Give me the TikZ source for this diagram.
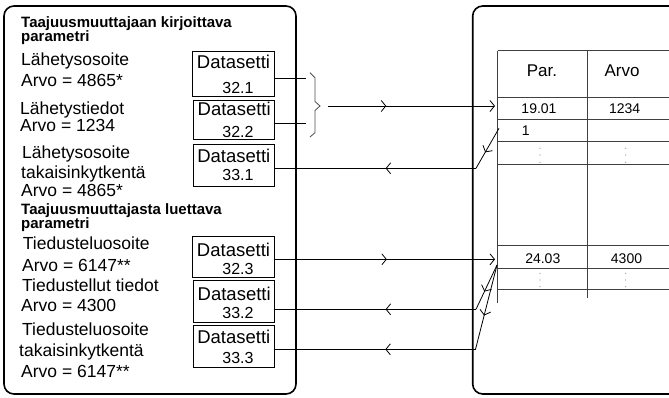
\documentclass[tikz,border=0pt]{standalone}
\usepackage{fontspec}
\setmainfont{Liberation Sans}
\usetikzlibrary{arrows.meta,decorations.markings,calc,fit}

% one Datasetti box: name, left x, top y, bottom y, number, title baseline, number baseline
\newcommand\datasetbox[7]{%
  \node[dbox, fit={(#2,#3) (274.7,#4)}] (#1) {};
  \node[dname] at ($(#1.center |- 0,#6)$) {Datasetti};
  \node[dnum] at (238,#7) {#5};
}

\begin{document}
\begin{tikzpicture}[x=1pt,y=-1pt,
  panel/.style={line width=1.6pt, rounded corners=10pt},
  dbox/.style={draw, line width=0.9pt, inner sep=0pt},
  dname/.style={anchor=base, font=\fontsize{18.5}{18.5}\selectfont, inner sep=0pt},
  dnum/.style={anchor=base, font=\fontsize{16}{16}\selectfont, inner sep=0pt},
  ptext/.style={anchor=base west, font=\fontsize{17.5}{17.5}\selectfont, inner sep=0pt},
  phead/.style={anchor=base west, font=\fontsize{15}{15}\selectfont\bfseries, inner sep=0pt},
  tline/.style={line width=0.8pt, draw=black!75},
  thead/.style={anchor=base, font=\fontsize{17}{17}\selectfont, inner sep=0pt},
  tval/.style={anchor=base, font=\fontsize{14}{14}\selectfont, inner sep=0pt},
  tdot/.style={fill=black!45},
  wire/.style={line width=0.8pt},
  barb/.style={-{Straight Barb[length=4.5pt,width=11pt]}},
  midbarb/.style={postaction=decorate, decoration={markings,
      mark=at position #1 with {\arrow{Straight Barb[length=4.5pt,width=11pt]}}}},
  bracepath/.style={line width=0.8pt, draw=black!70},
]
\useasboundingbox (0,0) rectangle (669,397);

% the two panels
\draw[panel] (4,6) rectangle (296,394);
\draw[panel] (690,6) -- (472.7,6) -- (472.7,394) -- (690,394);

% left panel: parameters written to the drive
\node[phead] (hw1) at (21,27) {Taajuusmuuttajaan kirjoittava};
\node[phead] (hw2) at (21,41.5) {parametri};
\node[ptext] (w1) at (21,65.5) {Lähetysosoite};
\node[ptext] (w2) at (21,86.5) {Arvo = 4865*};
\node[ptext] (w3) at (20,114) {Lähetystiedot};
\node[ptext] (w4) at (20,131.7) {Arvo = 1234};
\node[ptext] (w5) at (22,158.3) {Lähetysosoite};
\node[ptext] (w6) at (21,178.3) {takaisinkytkentä};
\node[ptext] (w7) at (21,196.7) {Arvo = 4865*};

% left panel: parameters read from the drive
\node[phead] (hr1) at (21,214) {Taajuusmuuttajasta luettava};
\node[phead] (hr2) at (21,228.5) {parametri};
\node[ptext] (r1) at (22.7,249.3) {Tiedusteluosoite};
\node[ptext] (r2) at (22,271) {Arvo = 6147**};
\node[ptext] (r3) at (22,291) {Tiedustellut tiedot};
\node[ptext] (r4) at (21,311) {Arvo = 4300};
\node[ptext] (r5) at (22,335.7) {Tiedusteluosoite};
\node[ptext] (r6) at (19,356.7) {takaisinkytkentä};
\node[ptext] (r7) at (21,377.3) {Arvo = 6147**};

% data sets
\datasetbox{d321}{192.3}{51.7}{96}{32.1}{68.3}{93.3}
\datasetbox{d322}{193.7}{100.3}{139.3}{32.2}{115}{137.3}
\datasetbox{d331}{193}{144.7}{186}{33.1}{162.5}{180}
\datasetbox{d323}{192.3}{236}{277.3}{32.3}{256.7}{274}
\datasetbox{d332}{193.7}{280}{322.3}{33.2}{300}{318.3}
\datasetbox{d333}{193}{325}{367}{33.3}{343.3}{363.3}

% parameter table
\draw[tline] (497.7,50.7) -- (497.7,303.3);
\draw[tline] (587.3,50.7) -- (587.3,298.3);
\foreach \y in {50.7,97.7,119.3,141.7,164,245,268.3,289.3}
  \draw[tline] (497.7,\y) -- (690,\y);
\node[thead] (par) at (542,76.7) {Par.};
\node[thead] (arvo) at (622,76.7) {Arvo};
\node[tval] (p1901) at (539,113.3) {19.01};
\node[tval] (v1234) at (624.7,113.3) {1234};
\node[tval, anchor=base west] (p1) at (521.7,135) {1};
\node[tval] (p2403) at (542.8,263.3) {24.03};
\node[tval] (v4300) at (626.5,263.3) {4300};
\foreach \x in {540,625.7} {
  \foreach \y in {148.3,155,162.3,273.3,280,286.7}
    \fill[tdot] (\x,\y) circle (0.6);
}

% connection points
\coordinate (b1) at (306,78.5);
\coordinate (b2) at (306,123.3);
\coordinate (bt) at (327.7,106);
\coordinate (t1901) at (495,106);
\coordinate (t1) at (499,128.3);
\coordinate (k1) at (476,168.3);
\coordinate (t2403) at (495,259.3);
\coordinate (t2) at (497,265);
\coordinate (k2) at (476,309.3);
\coordinate (k3) at (475.5,349.3);

% write requests
\draw[wire] (d321.east |- b1) -- (b1);
\draw[wire] (d322.east |- b2) -- (b2);
\draw[bracepath] (310,72.7) -- (315,77.7) -- (315,101.5) -- (320,106)
  -- (315,110.5) -- (315,132.7) -- (310,137);
\draw[wire, barb, midbarb=0.35] (bt) -- (t1901);
\draw[wire, barb, midbarb=0.508] (d323.east |- t2403) -- (t2403);

% feedback
\draw[wire, midbarb=0.6] (t1) -- (k1);
\draw[wire, midbarb=0.45] (k1) -- (d331.east |- k1);
\draw[wire, midbarb=0.6] (t2) -- (k2);
\draw[wire, midbarb=0.45] (k2) -- (d332.east |- k2);
\draw[wire, midbarb=0.6] (t2) -- (k3);
\draw[wire, midbarb=0.45] (k3) -- (d333.east |- k3);
\end{tikzpicture}
\end{document}
